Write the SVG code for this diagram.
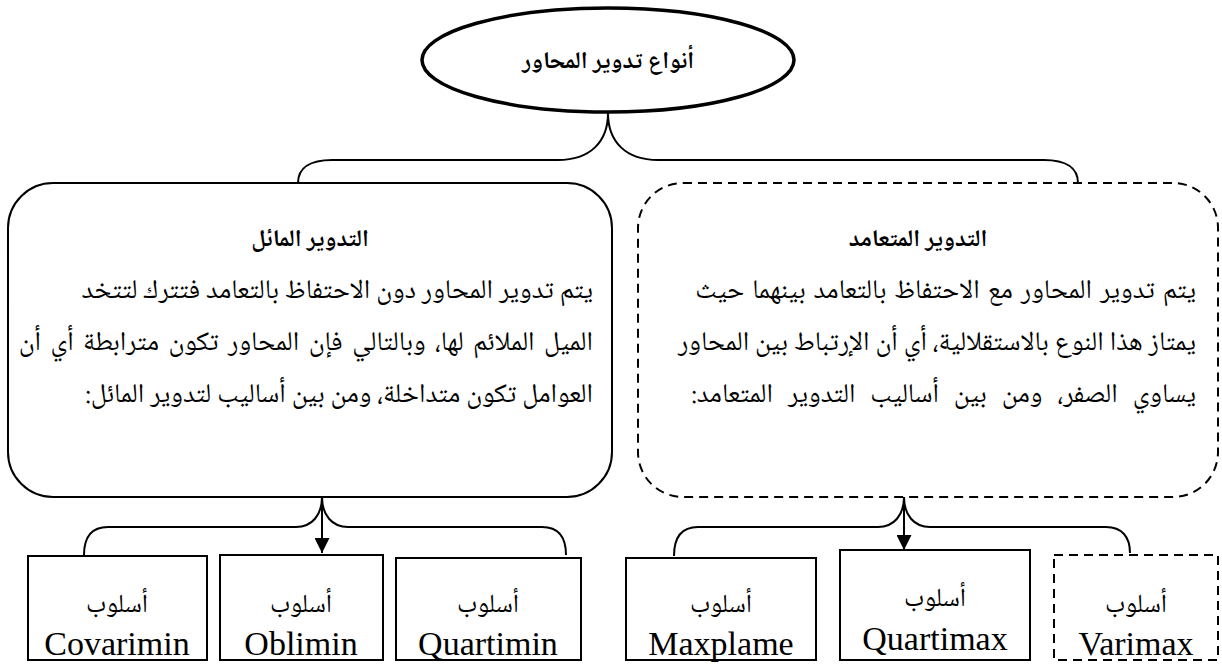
<svg xmlns="http://www.w3.org/2000/svg" width="1222" height="664" viewBox="0 0 1222 664">
  <defs>
    <style>
      .ar { font-family: "Noto Naskh Arabic", "Noto Sans Arabic", "DejaVu Sans", sans-serif; fill: #000; direction: rtl; }
      .en { font-family: "Liberation Serif", "Times New Roman", serif; fill: #000; font-size: 34px; }
      .title { font-size: 24px; font-weight: bold; }
      .body { font-size: 27px; }
      .lbl { font-size: 26px; }
      .box { fill: #fff; stroke: #000; stroke-width: 2; }
      .dash { stroke-dasharray: 9 6; }
      .link { fill: none; stroke: #000; stroke-width: 2; }
    </style>
    <marker id="arrow" viewBox="0 0 10 10" refX="10" refY="5" markerWidth="7.5" markerHeight="7.5" orient="auto" markerUnits="strokeWidth">
      <path d="M0,0 L10,5 L0,10 z" fill="#000"/>
    </marker>
  </defs>
  <rect width="1222" height="664" fill="#fff"/>

  <!-- connectors -->
  <g id="connectors">
    <!-- root to the two rotation types -->
    <path class="link" d="M298,183 C298,168 310,160 332,160 L558,160 C590,160 608,142 608,113 C608,142 626,160 658,160 L1044,160 C1066,160 1078,168 1078,183"/>
    <!-- oblique rotation to its methods -->
    <path class="link" d="M84,555 C84,537 92,527 108,527 L296,527 C312,527 322,515 322,497 C322,515 332,527 348,527 L542,527 C558,527 566,537 566,555"/>
    <line class="link" x1="322" y1="497" x2="322" y2="553" marker-end="url(#arrow)"/>
    <!-- orthogonal rotation to its methods -->
    <path class="link" d="M674,556 C674,537 682,527 698,527 L878,527 C894,527 904,515 904,497 C904,515 914,527 930,527 L1106,527 C1122,527 1130,537 1130,553"/>
    <line class="link" x1="904" y1="497" x2="904" y2="550" marker-end="url(#arrow)"/>
  </g>

  <!-- root -->
  <g id="root">
    <ellipse cx="608" cy="60" rx="186" ry="52" fill="#fff" stroke="#000" stroke-width="3.5"/>
    <text class="ar title" x="608" y="68" text-anchor="middle">أنواع تدوير المحاور</text>
  </g>

  <!-- oblique rotation -->
  <g id="oblique">
    <rect class="box" x="8" y="183" width="604" height="314" rx="45" ry="45"/>
    <text class="ar title" x="310" y="246" text-anchor="middle">التدوير المائل</text>
    <text class="ar body" x="593" y="298" text-anchor="start">يتم تدوير المحاور دون الاحتفاظ بالتعامد فتترك لتتخد</text>
    <text class="ar body" x="593" y="350" text-anchor="start" word-spacing="3.5">الميل الملائم لها، وبالتالي فإن المحاور تكون مترابطة  أي أن</text>
    <text class="ar body" x="593" y="402" text-anchor="start">العوامل تكون متداخلة، ومن بين أساليب لتدوير المائل:</text>
  </g>

  <!-- orthogonal rotation -->
  <g id="orthogonal">
    <rect class="box dash" x="638" y="183" width="580" height="314" rx="45" ry="45"/>
    <text class="ar title" x="918" y="246" text-anchor="middle">التدوير المتعامد</text>
    <text class="ar body" x="1196" y="298" text-anchor="start" word-spacing="2">يتم تدوير المحاور مع الاحتفاظ بالتعامد بينهما حيث</text>
    <text class="ar body" x="1196" y="350" text-anchor="start">يمتاز هذا النوع بالاستقلالية، أي أن الإرتباط بين المحاور</text>
    <text class="ar body" x="1196" y="402" text-anchor="start" word-spacing="9">يساوي الصفر، ومن بين أساليب التدوير المتعامد:</text>
  </g>

  <!-- oblique methods -->
  <g id="covarimin">
    <rect class="box" x="28" y="556" width="179" height="104"/>
    <text class="ar lbl" x="117" y="612" text-anchor="middle">أسلوب</text>
    <text class="en" x="117" y="655" text-anchor="middle">Covarimin</text>
  </g>
  <g id="oblimin">
    <rect class="box" x="220" y="555" width="163" height="105"/>
    <text class="ar lbl" x="301" y="612" text-anchor="middle">أسلوب</text>
    <text class="en" x="301" y="655" text-anchor="middle">Oblimin</text>
  </g>
  <g id="quartimin">
    <rect class="box" x="396" y="558" width="185" height="102" stroke-width="2.5"/>
    <text class="ar lbl" x="488" y="612" text-anchor="middle">أسلوب</text>
    <text class="en" x="488" y="655" text-anchor="middle">Quartimin</text>
  </g>

  <!-- orthogonal methods -->
  <g id="maxplame">
    <rect class="box" x="626" y="558" width="190" height="102"/>
    <text class="ar lbl" x="721" y="612" text-anchor="middle">أسلوب</text>
    <text class="en" x="721" y="655" text-anchor="middle">Maxplame</text>
  </g>
  <g id="quartimax">
    <rect class="box" x="840" y="550" width="190" height="110" stroke-width="2.5"/>
    <text class="ar lbl" x="935" y="606" text-anchor="middle">أسلوب</text>
    <text class="en" x="935" y="650" text-anchor="middle">Quartimax</text>
  </g>
  <g id="varimax">
    <rect class="box dash" x="1054" y="555" width="164" height="105"/>
    <text class="ar lbl" x="1136" y="612" text-anchor="middle">أسلوب</text>
    <text class="en" x="1136" y="655" text-anchor="middle">Varimax</text>
  </g>
</svg>
